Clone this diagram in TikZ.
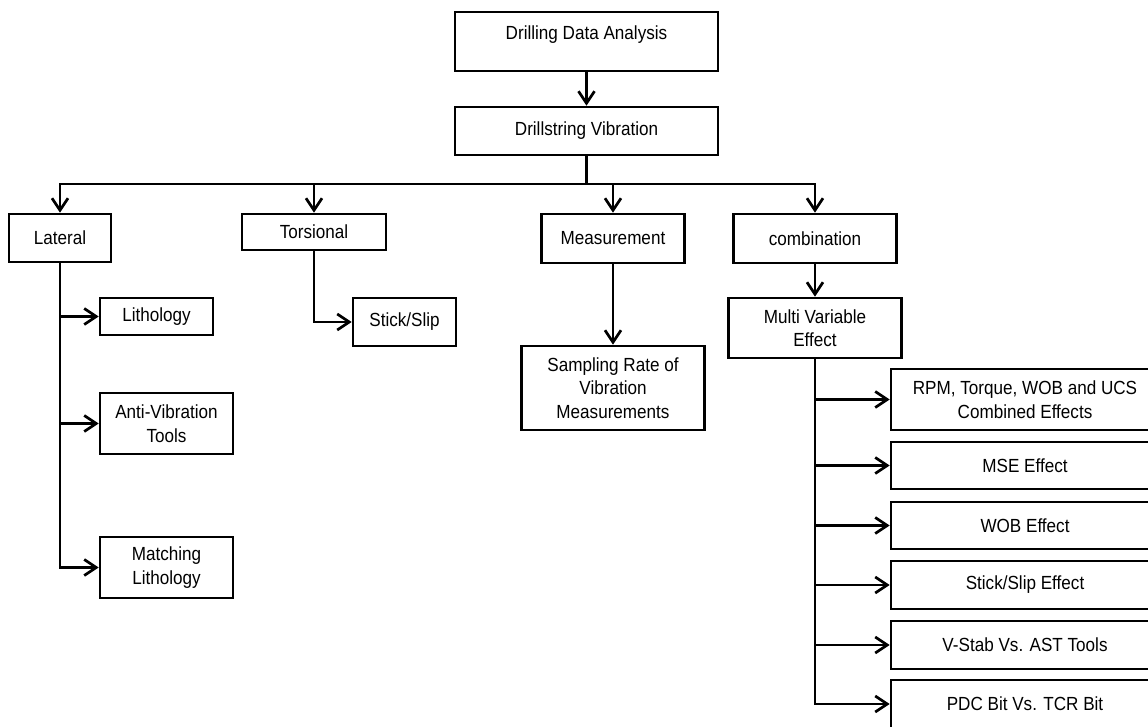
\documentclass[tikz,border=0pt]{standalone}
\usepackage{fontspec}
\setmainfont{Liberation Sans}[FakeStretch=0.9]
\usetikzlibrary{arrows.meta}

\begin{document}
\begin{tikzpicture}[x=1pt,y=-1pt,
    box/.style={draw, line width=2.7pt, align=center, inner sep=0pt,
        font=\fontsize{19}{23.5}\selectfont},
    link/.style={line width=2.7pt, -{Straight Barb[length=12pt,width=16pt,line width=2.7pt]}}]
    \useasboundingbox (0,0) rectangle (1148,726);
    \clip (0,0) rectangle (1148,726);

    \node[box, minimum width=263pt, text height=27pt, text depth=32pt] (dda) at (586.5,41.5) {Drilling Data Analysis};
    \node[box, minimum width=263pt, minimum height=48pt] (dv) at (586.5,131) {Drillstring Vibration};

    \node[box, minimum width=102pt, minimum height=48pt] (lat) at (60,238) {Lateral};
    \node[box, minimum width=144pt, minimum height=36pt] (tor) at (314,232) {Torsional};
    \node[box, minimum width=143pt, minimum height=49pt] (meas) at (613,238.5) {Measurement};
    \node[box, minimum width=163pt, minimum height=49pt] (comb) at (815,238.5) {combination};

    \node[box, minimum width=113pt, minimum height=37pt] (lith) at (156.5,316.5) {Lithology};
    \node[box, minimum width=133pt, minimum height=61pt] (avt) at (166.5,423.5) {Anti-Vibration\\Tools};
    \node[box, minimum width=133pt, minimum height=61pt] (mlith) at (166.5,567.5) {Matching\\Lithology};
    \node[box, minimum width=103pt, minimum height=48pt] (ss) at (404.5,322) {Stick/Slip};
    \node[box, minimum width=183pt, minimum height=84pt] (samp) at (613,388) {Sampling Rate of\\Vibration\\Measurements};
    \node[box, minimum width=173pt, minimum height=60pt] (multi) at (815,328) {Multi Variable\\Effect};

    \node[box, minimum width=268pt, minimum height=61pt] (rpm) at (1025,399.5) {RPM, Torque, WOB and UCS\\Combined Effects};
    \node[box, minimum width=268pt, minimum height=47pt] (mse) at (1025,465.5) {MSE Effect};
    \node[box, minimum width=268pt, minimum height=47pt] (wob) at (1025,525.5) {WOB Effect};
    \node[box, minimum width=268pt, minimum height=48pt] (sse) at (1025,585) {Stick/Slip Effect};
    \node[box, minimum width=268pt, minimum height=48pt] (vstab) at (1025,645) {V-Stab Vs. AST Tools};
    \node[box, minimum width=268pt, minimum height=48pt] (pdc) at (1025,704) {PDC Bit Vs. TCR Bit};

    \coordinate (bus) at (586.5,184);
    \draw[link] (dda) -- (dv);
    \draw[line width=2.7pt] (dv.south) -- (bus);
    \draw[link] (bus) -| (lat.north);
    \draw[link] (bus) -| (tor.north);
    \draw[link] (bus) -| (meas.north);
    \draw[link] (bus) -| (comb.north);

    \draw[link] (lat.south) |- (lith.west);
    \draw[link] (lat.south) |- (avt.west);
    \draw[link] (lat.south) |- (mlith.west);
    \draw[link] (tor.south) |- (ss.west);
    \draw[link] (meas.south) -- (samp.north);
    \draw[link] (comb.south) -- (multi.north);

    \draw[link] (multi.south) |- (rpm.west);
    \draw[link] (multi.south) |- (mse.west);
    \draw[link] (multi.south) |- (wob.west);
    \draw[link] (multi.south) |- (sse.west);
    \draw[link] (multi.south) |- (vstab.west);
    \draw[link] (multi.south) |- (pdc.west);
\end{tikzpicture}
\end{document}
